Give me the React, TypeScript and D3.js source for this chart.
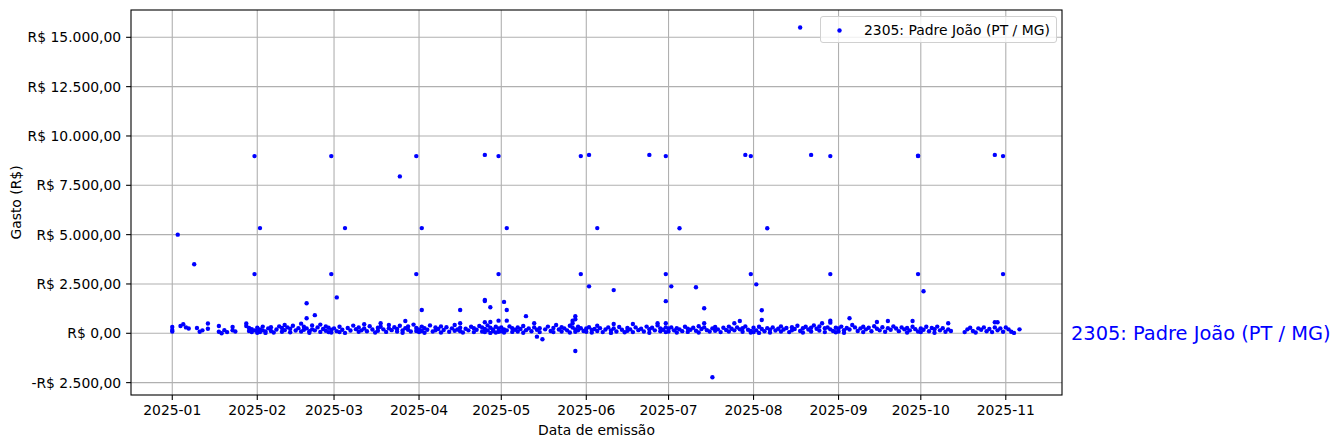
import * as d3 from 'd3'

// [dia do mês, valor em R$] — pontos de gasto "normais" por mês
const jan: [number, number][] = [[1,320],[1,170],[1,90],[4,370],[5,460],[6,300],[7,240],[10,270],[11,80],[12,150],[14,500],[14,230],[18,370],[18,80],[19,0],[20,160],[21,60],[23,320],[23,150],[24,90],[28,500],[28,370],[29,270],[29,120],[30,210],[30,60],[31,150]]
const feb: [number, number][] = [[1,280],[1,120],[1,30],[2,200],[2,60],[3,340],[3,150],[4,90],[4,20],[5,250],[6,310],[6,120],[7,40],[8,190],[9,350],[10,270],[10,80],[11,420],[11,160],[12,300],[13,230],[13,50],[14,380],[15,140],[16,260],[17,490],[17,90],[18,330],[18,180],[19,250],[20,110],[20,30],[21,400],[21,200],[22,150],[23,300],[24,70],[24,440],[25,220],[26,130],[26,350],[27,60],[27,280],[28,180],[28,40]]
const mar: [number, number][] = [[1,250],[2,110],[3,330],[3,60],[4,180],[5,20],[6,270],[7,140],[8,390],[9,210],[10,80],[10,300],[11,150],[12,460],[12,240],[13,100],[14,360],[15,190],[16,40],[17,280],[17,130],[18,510],[18,330],[19,200],[20,70],[21,420],[21,250],[22,160],[23,310],[24,90],[24,220],[25,380],[26,140],[26,30],[27,260],[27,620],[28,350],[28,180],[29,90],[30,440],[31,270],[31,120]]
const apr: [number, number][] = [[1,200],[1,60],[2,340],[2,120],[3,30],[3,260],[4,180],[5,400],[6,90],[7,290],[7,150],[8,220],[9,350],[9,40],[10,170],[11,310],[12,80],[13,250],[14,420],[14,130],[15,190],[16,507],[16,280],[16,100],[17,40],[18,230],[19,150],[20,330],[21,60],[21,260],[22,180],[23,370],[24,300],[24,90],[25,557],[25,220],[25,60],[26,400],[26,150],[27,570],[27,280],[27,20],[28,190],[28,110],[29,330],[29,40],[30,640],[30,250],[30,80]]
const may: [number, number][] = [[1,300],[1,100],[2,200],[2,40],[3,640],[3,150],[4,350],[5,260],[5,70],[6,180],[7,90],[7,290],[8,220],[9,30],[9,370],[10,160],[11,250],[12,100],[13,507],[13,300],[14,180],[15,60],[15,260],[17,200],[18,340],[19,120],[20,270],[20,60],[21,420],[22,190],[23,310],[23,90],[24,250],[25,150],[26,380],[26,40],[27,640],[27,507],[27,290],[28,200],[28,80],[29,330],[29,150],[30,260],[31,120]]
const jun: [number, number][] = [[1,250],[1,80],[2,310],[3,170],[3,40],[4,220],[5,380],[5,120],[6,260],[7,60],[8,190],[9,300],[10,140],[10,20],[11,470],[11,240],[12,90],[13,320],[14,180],[15,50],[16,270],[16,130],[17,200],[18,470],[18,60],[19,300],[20,160],[21,230],[22,90],[23,340],[24,210],[24,30],[25,280],[26,150],[27,507],[27,400],[28,250],[28,100],[29,180],[30,507],[30,300],[30,60]]
const jul: [number, number][] = [[1,240],[1,90],[2,300],[3,150],[4,40],[4,260],[5,200],[6,110],[7,330],[8,70],[8,230],[9,180],[10,280],[11,130],[12,360],[12,40],[13,220],[14,507],[14,300],[15,160],[16,90],[17,250],[18,320],[18,130],[19,200],[20,60],[21,280],[22,170],[23,340],[23,90],[24,230],[25,507],[25,150],[26,300],[27,623],[27,200],[28,80],[28,260],[29,350],[30,180],[31,120],[31,40]]
const aug: [number, number][] = [[1,280],[1,60],[2,150],[3,330],[3,20],[4,674],[4,220],[5,100],[6,260],[7,180],[7,40],[8,300],[9,140],[10,230],[11,90],[11,350],[12,190],[13,270],[14,60],[15,310],[15,150],[16,220],[17,380],[18,120],[19,260],[19,40],[20,330],[21,190],[22,280],[22,90],[23,400],[24,230],[25,350],[25,140],[26,507],[27,260],[27,60],[28,300],[29,640],[29,540],[29,200],[30,120],[31,280],[31,50]]
const sep: [number, number][] = [[1,240],[1,90],[2,340],[3,160],[3,30],[4,270],[5,190],[6,420],[7,300],[8,120],[9,250],[10,60],[10,330],[11,200],[12,280],[13,100],[14,360],[15,570],[15,230],[16,150],[17,310],[18,80],[19,620],[19,260],[20,180],[21,350],[22,240],[23,110],[24,300],[25,200],[26,40],[26,270],[27,150],[28,620],[28,330],[29,210],[30,90]]
const oct: [number, number][] = [[1,250],[1,60],[2,180],[3,330],[4,100],[5,270],[6,30],[6,210],[7,340],[8,150],[9,260],[10,80],[11,507],[11,200],[12,120],[17,60],[18,200],[19,280],[20,120],[21,40],[22,250],[23,180],[24,300],[25,100],[26,220],[27,60],[28,557],[28,300],[29,557],[29,150],[30,250],[31,80]]
const nov: [number, number][] = [[1,300],[2,200],[3,80],[4,20],[6,200]]

// [mês (0 = jan), dia, valor] — gastos fora da faixa comum
const outliers: [number, number, number][] = [
  [0,3,5000],[0,9,3500],[0,31,8980],[0,31,3000],
  [1,2,5330],[1,19,1520],[1,19,760],[1,22,920],[1,28,8980],[1,28,3000],
  [2,2,1820],[2,5,5330],[2,25,7950],[2,31,8980],[2,31,3000],
  [3,2,1180],[3,2,5330],[3,16,1180],[3,25,9040],[3,25,1690],[3,25,1640],[3,27,1320],[3,30,8980],[3,30,3000],
  [4,2,1590],[4,3,5330],[4,3,1180],[4,10,870],[4,14,-170],[4,16,-300],[4,28,-900],[4,28,870],[4,28,710],[4,30,8980],[4,30,3000],
  [5,2,9040],[5,2,2380],[5,5,5330],[5,11,2190],[5,24,9040],[5,30,8980],[5,30,3000],[5,30,1630],
  [6,2,2380],[6,5,5320],[6,11,2330],[6,14,1270],[6,17,-2230],[6,29,9040],[6,31,8980],[6,31,3000],
  [7,2,2480],[7,4,1170],[7,6,5320],[7,18,15500],[7,22,9040],[7,29,8980],[7,29,3000],
  [8,5,760],[8,30,8980],[8,30,9000],[8,30,3000],
  [9,2,2130],[9,28,9040],[9,31,8980],[9,31,3000],
]

const yTicks = [-2500, 0, 2500, 5000, 7500, 10000, 12500, 15000]
const seriesName = '2305: Padre João (PT / MG)'

const W = 1341
const H = 448
const margin = { left: 131, right: 1062, top: 10, bottom: 395 }
const DAY = 864e5
const jan1 = Date.UTC(2025, 0, 1)

const brl = d3.formatLocale({
  decimal: ',',
  thousands: '.',
  grouping: [3],
  currency: ['R$ ', ''],
  minus: '-',
})
const fmt = brl.format('$,.2f')

export default function App() {
  const bands = [jan, feb, mar, apr, may, jun, jul, aug, sep, oct, nov]
  const points: { date: Date; value: number }[] = []
  bands.forEach((list, m) => list.forEach(([d, v]) => points.push({ date: new Date(Date.UTC(2025, m, d)), value: v })))
  outliers.forEach(([m, d, v]) => points.push({ date: new Date(Date.UTC(2025, m, d)), value: v }))

  const x = d3.scaleUtc()
    .domain([new Date(jan1 - 15.05 * DAY), new Date(jan1 + 324.5 * DAY)])
    .range([margin.left, margin.right])
  const y = d3.scaleLinear()
    .domain([-3127, 16384])
    .range([margin.bottom, margin.top])

  const xTicks = d3.utcMonth.range(new Date(jan1), new Date(Date.UTC(2025, 10, 2)))
  const font = 'DejaVu Sans, sans-serif'
  const plotW = margin.right - margin.left
  const plotH = margin.bottom - margin.top

  return (
    <svg width={W} height={H} style={{ position: 'absolute', left: 0, top: 0, background: '#fff' }} fontFamily={font}>
      <rect x={0} y={0} width={W} height={H} fill="#fff" />
      {/* grade */}
      {xTicks.map((t, i) => (
        <line key={'gx' + i} x1={x(t)} x2={x(t)} y1={margin.top} y2={margin.bottom} stroke="#b0b0b0" strokeWidth={1.1} />
      ))}
      {yTicks.map((t, i) => (
        <line key={'gy' + i} x1={margin.left} x2={margin.right} y1={y(t)} y2={y(t)} stroke="#b0b0b0" strokeWidth={1.1} />
      ))}

      {points.map((p, i) => (
        <circle key={i} cx={x(p.date)} cy={y(p.value)} r={2.2} fill="#0000ff" />
      ))}

      <rect x={margin.left} y={margin.top} width={plotW} height={plotH} fill="none" stroke="#000" strokeWidth={1.1} />

      {/* eixo x */}
      {xTicks.map((t, i) => (
        <g key={'tx' + i} transform={`translate(${x(t)},${margin.bottom})`}>
          <line y1={0} y2={4.9} stroke="#000" strokeWidth={1.1} />
          <text y={19.5} textAnchor="middle" fontSize={13.9} fill="#000">{d3.utcFormat('%Y-%m')(t)}</text>
        </g>
      ))}
      {/* eixo y */}
      {yTicks.map((t, i) => (
        <g key={'ty' + i} transform={`translate(${margin.left},${y(t)})`}>
          <line x1={0} x2={-4.9} stroke="#000" strokeWidth={1.1} />
          <text x={-9.8} dy="0.35em" textAnchor="end" fontSize={13.9} fill="#000">{fmt(t)}</text>
        </g>
      ))}

      <text x={(margin.left + margin.right) / 2} y={435} textAnchor="middle" fontSize={13.9}>Data de emissão</text>
      <text transform={`translate(21,${(margin.top + margin.bottom) / 2}) rotate(-90)`} textAnchor="middle" fontSize={13.9}>Gasto (R$)</text>

      {/* legenda */}
      <rect x={820.5} y={16.5} width={236} height={26} rx={2.5} fill="#fff" fillOpacity={0.8} stroke="#d0d0d0" strokeWidth={1} />
      <circle cx={839.5} cy={30.5} r={2.2} fill="#0000ff" />
      <text x={864} y={35} fontSize={13.9} fill="#000">{seriesName}</text>

      {/* rótulo à direita */}
      <text x={1071} y={y(0)} dy="0.35em" fontSize={19.4} fill="#0000ff">{seriesName}</text>
    </svg>
  )
}
